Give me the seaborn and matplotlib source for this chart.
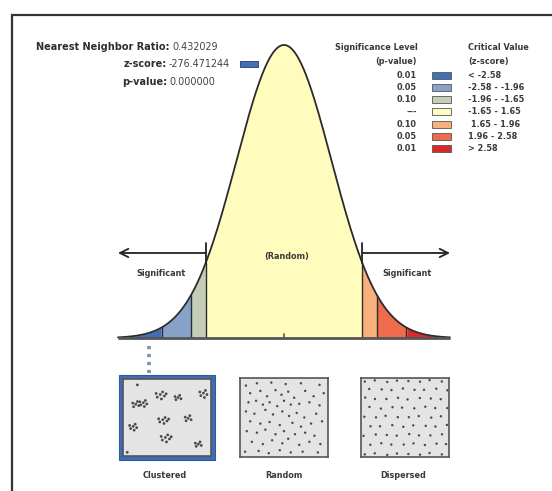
import numpy as np
import pandas as pd
import matplotlib
matplotlib.use("Agg")
import matplotlib.pyplot as plt
from matplotlib.patches import Rectangle
import seaborn as sns

sns.set_theme(style="white")
plt.rcParams['font.family'] = ['DejaVu Sans']

# ---------------- data ----------------
nn_ratio = "0.432029"
z_score = "-276.471244"
p_value = "0.000000"

bounds = [-3.5, -2.58, -1.96, -1.65, 1.65, 1.96, 2.58, 3.5]
band_colors = ["#4170b6", "#86a2c9", "#c3cdb7", "#fffcbe", "#f8b07c", "#ee6c4b", "#d9292b"]
p_labels = ["0.01", "0.05", "0.10", "---", "0.10", "0.05", "0.01"]
z_labels = ["< -2.58", "-2.58 - -1.96", "-1.96 - -1.65", "-1.65 - 1.65",
            " 1.65 - 1.96", "1.96 - 2.58", "> 2.58"]
marker_z = -2.85          # where the (clipped) observed z-score is indicated
panel_names = ["Clustered", "Random", "Dispersed"]

cluster_centers = [(0.13, 0.32), (0.22, 0.30), (0.42, 0.19), (0.63, 0.23), (0.93, 0.17),
                   (0.45, 0.53), (0.75, 0.51), (0.10, 0.62), (0.48, 0.77), (0.87, 0.86)]
cluster_offsets = [(0.0, 0.0), (0.035, 0.02), (-0.025, 0.035), (0.02, -0.035),
                   (-0.035, -0.015), (0.01, 0.06), (0.05, -0.01)]
cluster_singles = [(0.15, 0.06), (0.03, 0.97)]

random_pts = [(0.05, 0.08), (0.18, 0.05), (0.35, 0.04), (0.52, 0.06), (0.70, 0.05), (0.92, 0.07),
              (0.10, 0.18), (0.22, 0.15), (0.30, 0.22), (0.40, 0.14), (0.47, 0.20), (0.55, 0.16),
              (0.62, 0.24), (0.75, 0.15), (0.85, 0.22), (0.97, 0.18), (0.08, 0.30), (0.17, 0.28),
              (0.25, 0.33), (0.33, 0.30), (0.42, 0.35), (0.50, 0.28), (0.58, 0.33), (0.68, 0.32),
              (0.80, 0.30), (0.92, 0.34), (0.05, 0.42), (0.15, 0.45), (0.28, 0.40), (0.37, 0.46),
              (0.48, 0.42), (0.56, 0.48), (0.65, 0.44), (0.74, 0.50), (0.88, 0.45), (0.10, 0.55),
              (0.22, 0.58), (0.33, 0.56), (0.45, 0.60), (0.60, 0.57), (0.70, 0.62), (0.82, 0.58),
              (0.95, 0.55), (0.06, 0.68), (0.18, 0.70), (0.28, 0.66), (0.40, 0.72), (0.50, 0.68),
              (0.63, 0.72), (0.75, 0.70), (0.86, 0.74), (0.12, 0.82), (0.25, 0.85), (0.36, 0.80),
              (0.48, 0.84), (0.55, 0.78), (0.68, 0.86), (0.80, 0.82), (0.93, 0.85), (0.04, 0.95),
              (0.20, 0.94), (0.32, 0.97), (0.45, 0.93), (0.58, 0.96), (0.72, 0.95), (0.90, 0.96)]

disp_rows = [0.02, 0.13, 0.25, 0.37, 0.49, 0.61, 0.73, 0.85, 0.98]
disp_cols = [0.02, 0.15, 0.28, 0.41, 0.54, 0.67, 0.80, 0.93]
disp_jitter = [0.01, -0.015, 0.02, -0.01, 0.0, 0.015, -0.02, 0.01]

# ---------------- figure ----------------
W, H = 552, 491
fig = plt.figure(figsize=(W / 100, H / 100), dpi=100)
fig.patch.set_facecolor("white")


def px_axes(x0, y0, x1, y1, **kw):
    return fig.add_axes([x0 / W, 1 - y1 / H, (x1 - x0) / W, (y1 - y0) / H], **kw)


# overlay in pixel coordinates (for frame, text, legend)
ov = px_axes(0, 0, W, H)
ov.set_xlim(0, W)
ov.set_ylim(H, 0)
ov.axis("off")

ov.plot([11.5, 11.5], [14, H], color="#333333", lw=1.6, solid_capstyle="butt")
ov.plot([11, W], [14.5, 14.5], color="#333333", lw=1.6, solid_capstyle="butt")

lab_kw = dict(fontsize=7.0, fontweight="bold", color="#2e2e2e", va="center")
val_kw = dict(fontsize=6.9, color="#444444", va="center")
ov.text(170, 47, "Nearest Neighbor Ratio:", ha="right", **lab_kw)
ov.text(172, 47, nn_ratio, ha="left", **val_kw)
ov.text(167, 64, "z-score:", ha="right", **lab_kw)
ov.text(169, 64, z_score, ha="left", **val_kw)
ov.text(167, 82, "p-value:", ha="right", **lab_kw)
ov.text(169, 82, p_value, ha="left", **val_kw)
ov.add_patch(Rectangle((240, 61), 18, 6, facecolor=band_colors[0], edgecolor="#333366", lw=0.6))

leg_kw = dict(fontsize=5.9, fontweight="bold", color="#3a3a3a", va="center")
txt_kw = {k: v for k, v in leg_kw.items() if k != "va"}
ov.text(376, 47, "Significance Level", ha="center", **leg_kw)
ov.text(417, 61, "(p-value)", ha="right", **leg_kw)
ov.text(468, 47, "Critical Value", ha="left", **leg_kw)
ov.text(468, 61, "(z-score)", ha="left", **leg_kw)
row_y0, row_dy = 75, 12.3
for i, (pl, zl, c) in enumerate(zip(p_labels, z_labels, band_colors)):
    y = row_y0 + i * row_dy
    ov.text(417, y, pl, ha="right", **leg_kw)
    ov.add_patch(Rectangle((432, y - 3.5), 19, 7, facecolor=c, edgecolor="#555555", lw=0.6))
    ov.text(468, y, zl, ha="left", **leg_kw)

# clustered blue frame
ov.add_patch(Rectangle((119, 375), 96, 85, facecolor="#3f6db3", edgecolor="#34599a", lw=0.8))

# panel labels
for name, xc in zip(panel_names, [165, 284, 403]):
    ov.text(xc, 475, name, ha="center", **leg_kw)

# ---------------- bell curve ----------------
ax = px_axes(118, 45, 450, 338)
pdf0 = 1 / np.sqrt(2 * np.pi)
z = np.linspace(bounds[0], bounds[-1], 600)
dens = np.exp(-z ** 2 / 2) / np.sqrt(2 * np.pi)
curve = pd.DataFrame({"z": z, "density": dens})

for lo, hi, c in zip(bounds[:-1], bounds[1:], band_colors):
    m = (curve["z"] >= lo) & (curve["z"] <= hi)
    ax.fill_between(curve["z"][m], 0, curve["density"][m], color=c, lw=0)
for b in bounds[1:-1]:
    ax.plot([b, b], [0, np.exp(-b ** 2 / 2) / np.sqrt(2 * np.pi)], color="#2e2e2e", lw=1.0)
sns.lineplot(data=curve, x="z", y="density", ax=ax, color="#2b2b2b", lw=1.3, clip_on=False)
ax.plot([bounds[0], bounds[-1]], [0, 0], color="#555555", lw=2.0, clip_on=False,
        solid_capstyle="butt")
ax.plot([0, 0], [0, 0.006], color="#555555", lw=1.2, clip_on=False)

# significance arrows
ya = pdf0 * (338 - 253) / 293
for start, end in [(bounds[3], bounds[0]), (bounds[4], bounds[-1])]:
    ax.annotate("", xy=(end, ya), xytext=(start, ya),
                arrowprops=dict(arrowstyle="->,head_length=0.5,head_width=0.25",
                                color="#222222", lw=1.3, shrinkA=0, shrinkB=0),
                annotation_clip=False)
    ax.plot([start, start], [ya - 0.014, ya + 0.014], color="#222222", lw=1.3, clip_on=False)

ax.text(0.05, pdf0 * (338 - 256) / 293, "(Random)", ha="center", va="center", **txt_kw)
ax.text(-2.6, pdf0 * (338 - 273) / 293, "Significant", ha="center", va="center", **txt_kw)
ax.text(2.6, pdf0 * (338 - 273) / 293, "Significant", ha="center", va="center", **txt_kw)

# dotted marker line
ax.plot([marker_z, marker_z], [-pdf0 * 8 / 293, -pdf0 * 35 / 293], color="#7d8fa8", lw=2.6,
        linestyle=(0, (0.9, 1.3)), clip_on=False)

ax.set_xlim(bounds[0], bounds[-1])
ax.set_ylim(0, pdf0)
ax.axis("off")

# ---------------- pattern panels ----------------
def panel(x0, y0, x1, y1, pts, size):
    pa = px_axes(x0, y0, x1, y1)
    df = pd.DataFrame(pts, columns=["x", "y"])
    sns.scatterplot(data=df, x="x", y="y", ax=pa, s=size, color="#4a4a4a", edgecolor="none",
                    clip_on=False)
    pa.set_xlim(-0.02, 1.02)
    pa.set_ylim(1.02, -0.02)
    pa.set_facecolor("#e4e4e4")
    pa.set_xticks([])
    pa.set_yticks([])
    pa.set_xlabel("")
    pa.set_ylabel("")
    for s in pa.spines.values():
        s.set_visible(True)
        s.set_color("#555555")
        s.set_linewidth(1.2)
    return pa

clustered = [(cx + ox * (1 + 0.2 * (k % 3)), cy + oy * (1 - 0.15 * (k % 2)))
             for k, (cx, cy) in enumerate(cluster_centers) for ox, oy in cluster_offsets[: 5 + k % 3]]
clustered += cluster_singles
panel(123, 379, 211, 456, clustered, 4)
panel(240, 378, 328, 457, random_pts, 3)

dispersed = [(min(1.0, c + (0.065 if r % 2 else 0.0) + disp_jitter[(r + j) % 8] * 0.5),
              rv + disp_jitter[(r * 3 + j) % 8] * 0.6)
             for r, rv in enumerate(disp_rows) for j, c in enumerate(disp_cols)]
panel(361, 378, 449, 457, dispersed, 3)

fig.savefig("out.png", dpi=100)
